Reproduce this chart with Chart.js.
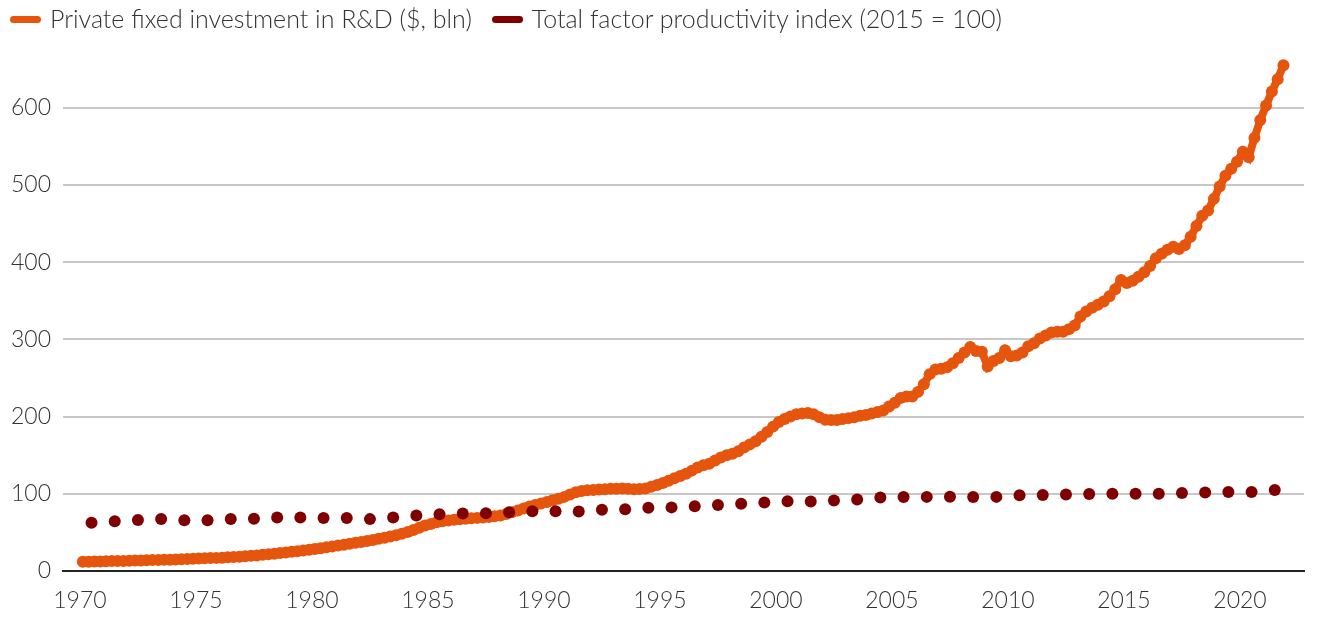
<!DOCTYPE html>
<html>
  <head>
    <title>R&amp;D investment vs TFP</title>
    <script src="https://cdn.jsdelivr.net/npm/chart.js"></script>
    <style>
      body { margin: 0; background: #fff; }
      #wrap { position: relative; width: 1318px; height: 618px; }
      #legend {
        position: absolute; top: 3px; left: 10px;
        font-family: "Source Sans Pro", Lato, sans-serif; font-weight: 300;
        font-size: 25px; line-height: 30px; color: #333; white-space: nowrap;
      }
      #legend span.item { margin-right: 20px; }
      #legend span.mark {
        display: inline-block; width: 31px; height: 7px; border-radius: 4px;
        vertical-align: middle; margin-right: 9px; position: relative; top: -2px;
      }
    </style>
  </head>
  <body>
    <div id="wrap">
      <canvas id="chart" width="1318" height="618"></canvas>
      <div id="legend"></div>
    </div>
    <script>
      // Private fixed investment in R&D, $ bln, quarterly from 1970Q1 to 2021Q4
      var rdStartYear = 1970;
      var rdValues = [
        12.0, 12.1, 12.3, 12.4,   12.6, 12.8, 13.0, 13.1,   13.3, 13.5, 13.7, 13.9,
        14.1, 14.3, 14.5, 14.7,   15.0, 15.3, 15.6, 15.9,   16.2, 16.5, 16.8, 17.0,
        17.3, 17.7, 18.1, 18.5,   19.0, 19.6, 20.2, 20.9,   21.6, 22.4, 23.2, 24.0,
        24.8, 25.7, 26.6, 27.6,   28.6, 29.6, 30.7, 31.8,   32.9, 34.1, 35.3, 36.5,
        37.7, 39.0, 40.3, 41.7,   43.1, 44.7, 46.4, 48.3,   50.5, 53.0, 56.0, 58.8,
        61.0, 63.0, 64.5, 65.5,   66.3, 67.0, 67.6, 68.2,   68.8, 69.4, 70.0, 70.8,
        72.0, 73.8, 76.0, 78.5,   81.0, 83.5, 85.5, 87.5,   89.5, 91.5, 93.5, 96.0,
        99.0, 102.0, 103.5, 104.5, 105.0, 105.5, 106.0, 106.4, 106.6, 106.8, 106.4, 106.0,
        106.2, 107.0, 109.0, 111.5, 114, 117, 120, 123,   126, 130, 134, 137,
        139, 143, 147, 150,       152, 155, 160, 164,     168, 174, 180, 187,
        193, 197, 200, 203,       204, 204.5, 203, 199,   196, 195.5, 195.5, 197,
        198, 199, 201, 202,       204, 206, 208, 213,     218, 224, 226, 226,
        232, 242, 255, 261,       262, 264, 269, 276,     283, 290, 285, 284,
        265, 272, 276, 286,       278, 279, 283, 291,     295, 301, 305, 309,
        310, 310, 313, 318,       329.5, 336, 341, 345,   349, 356, 365, 377,
        373, 376, 381, 387,       395, 405, 411, 416,     420, 417, 422, 433,
        447, 460, 467, 482,       498, 512, 521, 530,     543, 536, 561, 584,
        603, 621, 637, 655
      ];

      // Total factor productivity index (2015 = 100), annual 1970-2021
      var tfpYears = [];
      for (var y = 1970; y <= 2021; y++) tfpYears.push(y);
      var tfpValues = [
        62.6, 64.5, 66.0, 67.5, 65.8, 65.7, 67.3, 67.8, 69.3, 69.4,
        68.5, 68.7, 67.2, 69.4, 72.0, 73.6, 74.5, 74.8, 76.0, 77.3,
        77.4, 77.0, 79.2, 80.0, 82.0, 82.4, 84.0, 85.5, 87.0, 88.6,
        90.3, 90.0, 91.3, 92.6, 95.2, 95.8, 96.0, 96.2, 95.8, 96.0,
        98.2, 98.3, 99.2, 99.6, 100.0, 100.0, 100.2, 101.0, 101.8, 102.4,
        102.4, 105.0
      ];

      var yTicks = [0, 100, 200, 300, 400, 500, 600];
      var xTicks = [1970, 1975, 1980, 1985, 1990, 1995, 2000, 2005, 2010, 2015, 2020];

      var seriesNames = [
        "Private fixed investment in R&D ($, bln)",
        "Total factor productivity index (2015 = 100)"
      ];
      var seriesColors = ["#e6550d", "#7f0000"];

      // quarters sit in the middle of their quarter, years in the middle of the year
      var rdPoints = rdValues.map(function (v, i) {
        return { x: rdStartYear + (i + 0.5) / 4, y: v };
      });
      var tfpPoints = tfpValues.map(function (v, i) {
        return { x: tfpYears[i] + 0.5, y: v };
      });

      // legend
      var legend = document.getElementById("legend");
      seriesNames.forEach(function (name, i) {
        var item = document.createElement("span");
        item.className = "item";
        var mark = document.createElement("span");
        mark.className = "mark";
        mark.style.background = seriesColors[i];
        item.appendChild(mark);
        item.appendChild(document.createTextNode(name));
        legend.appendChild(item);
      });

      var tickFont = { family: "'Source Sans Pro', Lato, sans-serif", size: 23, weight: 300 };

      new Chart(document.getElementById("chart"), {
        type: "line",
        data: {
          datasets: [
            {
              label: seriesNames[0],
              data: rdPoints,
              borderColor: seriesColors[0],
              backgroundColor: seriesColors[0],
              borderWidth: 8,
              pointRadius: 6,
              pointHoverRadius: 6,
              pointBorderWidth: 0,
              tension: 0,
              order: 1,
            },
            {
              label: seriesNames[1],
              data: tfpPoints,
              showLine: false,
              borderColor: seriesColors[1],
              backgroundColor: seriesColors[1],
              pointRadius: 6,
              pointBorderWidth: 0,
              order: 0,
            },
          ],
        },
        options: {
          responsive: false,
          animation: false,
          layout: { padding: { top: 46, right: 14, bottom: 0, left: 0 } },
          plugins: { legend: { display: false }, tooltip: { enabled: false } },
          scales: {
            x: {
              type: "linear",
              min: 1969.27,
              max: 2022.76,
              afterBuildTicks: function (scale) {
                scale.ticks = xTicks.map(function (v) { return { value: v }; });
              },
              afterFit: function (scale) { scale.height = 47; },
              ticks: {
                font: tickFont,
                color: "#333",
                padding: 16,
                maxRotation: 0,
                callback: function (v) { return String(v); },
              },
              grid: { display: false, drawTicks: false },
              border: { display: true, color: "#222", width: 2 },
            },
            y: {
              min: 0,
              max: 680,
              afterBuildTicks: function (scale) {
                scale.ticks = yTicks.map(function (v) { return { value: v }; });
              },
              afterFit: function (scale) { scale.width = 63; },
              ticks: { font: tickFont, color: "#333", padding: 12 },
              grid: {
                drawTicks: false,
                lineWidth: 2,
                color: function (ctx) {
                  return ctx.tick && ctx.tick.value === 0 ? "#222" : "#c8c8c8";
                },
              },
              border: { display: false },
            },
          },
        },
      });
    </script>
  </body>
</html>
